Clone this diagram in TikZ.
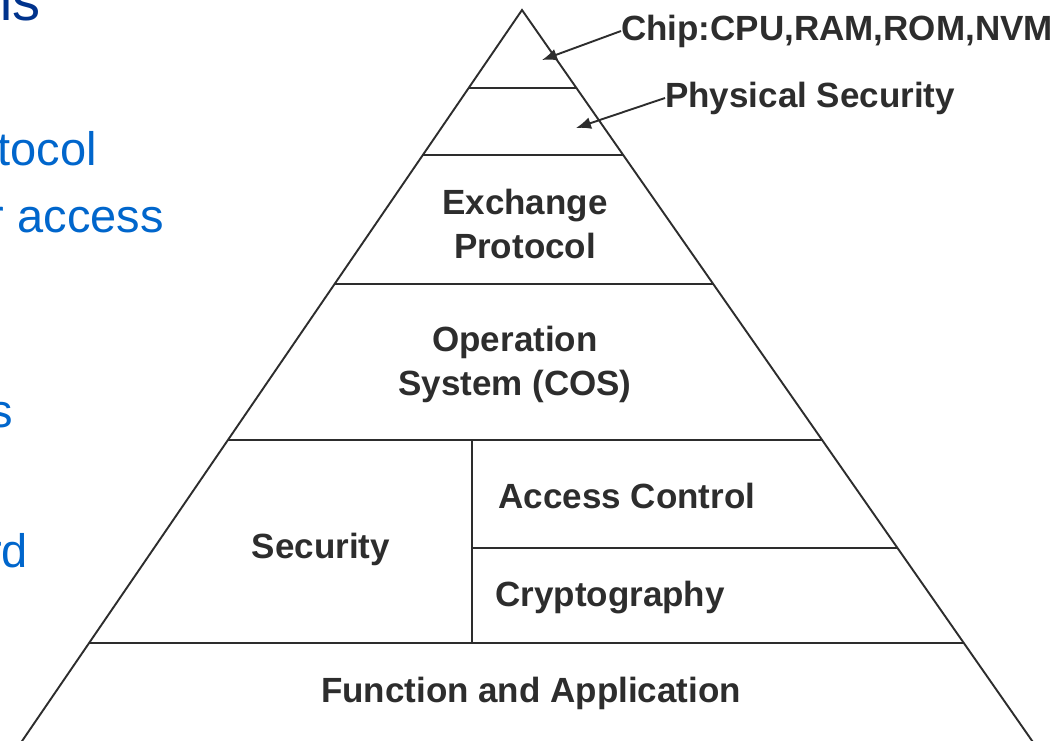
\documentclass[tikz,border=0pt]{standalone}
\usepackage{fontspec}
\setmainfont{Liberation Sans}
\usetikzlibrary{arrows.meta}
\definecolor{slideblue}{RGB}{0,102,204}
\definecolor{slidenavy}{RGB}{0,51,140}
\definecolor{ink}{RGB}{45,45,45}
\tikzset{
  layer/.style={draw=ink, line width=1.9pt},
  lbl/.style={font=\fontsize{35}{41}\selectfont\bfseries, text=ink, inner sep=0pt, align=center},
  pointer/.style={draw=ink, line width=1.9pt, -{Latex[length=15pt,width=12pt]}},
  bullet/.style={font=\fontsize{47}{50}\selectfont, text=slideblue, anchor=base east, inner sep=0pt}
}
\begin{document}
\begin{tikzpicture}[x=1pt,y=-1pt]
\useasboundingbox (0,0) rectangle (1061,740);
\clip (0,0) rectangle (1061,740);
\fill[white] (0,0) rectangle (1061,740);

% slide text on the left edge
\node[bullet, font=\fontsize{56}{60}\selectfont, text=slidenavy] (title) at (41,20) {ns};
\node[bullet] (b1) at (97,165) {tocol};
\node[bullet] (b2) at (164,232) {r access};
\node[bullet] (b3) at (13,427) {s};
\node[bullet] (b4) at (28,567) {rd};

% pyramid outline
\coordinate (apex) at (522,10);
\coordinate (l1) at (468.6,88);  \coordinate (r1) at (576.4,88);
\coordinate (l2) at (422.8,155); \coordinate (r2) at (623.2,155);
\coordinate (l3) at (334.6,284); \coordinate (r3) at (713.3,284);
\coordinate (l4) at (228,440);   \coordinate (r4) at (822.1,440);
\coordinate (m4) at (472,440);
\coordinate (m45) at (472,548);  \coordinate (r45) at (897.5,548);
\coordinate (l5) at (89,643);    \coordinate (r5) at (963.8,643);
\coordinate (m5) at (472,643);
\coordinate (l6) at (20.7,743);  \coordinate (r6) at (1033.6,743);

\draw[layer] (l6) -- (apex) -- (r6);
\draw[layer] (l1) -- (r1);
\draw[layer] (l2) -- (r2);
\draw[layer] (l3) -- (r3);
\draw[layer] (l4) -- (r4);
\draw[layer] (m45) -- (r45);
\draw[layer] (l5) -- (r5);
\draw[layer] (m4) -- (m5);
\draw[layer] (l6) -- (r6);

% layer labels
\node[lbl] (exch) at (525,224) {Exchange\\[3pt]Protocol};
\node[lbl] (os) at (515,364) {Operation\\[3pt]System (COS)};
\node[lbl] (acc) at (627,496) {Access Control};
\node[lbl] (sec) at (321,549) {Security};
\node[lbl] (cry) at (610,598) {Cryptography};
\node[lbl] (fun) at (531,693) {Function and Application};

% callouts for the two top layers
\node[lbl, anchor=west] (chip) at (621,31) {Chip:CPU,RAM,ROM,NVM};
\node[lbl, anchor=west] (phys) at (665,98) {Physical Security};
\coordinate (chiptip) at (542,60);
\coordinate (phystip) at (576,128);
\draw[pointer] (chip.west) -- (chiptip);
\draw[pointer] (phys.west) -- (phystip);
\end{tikzpicture}
\end{document}
